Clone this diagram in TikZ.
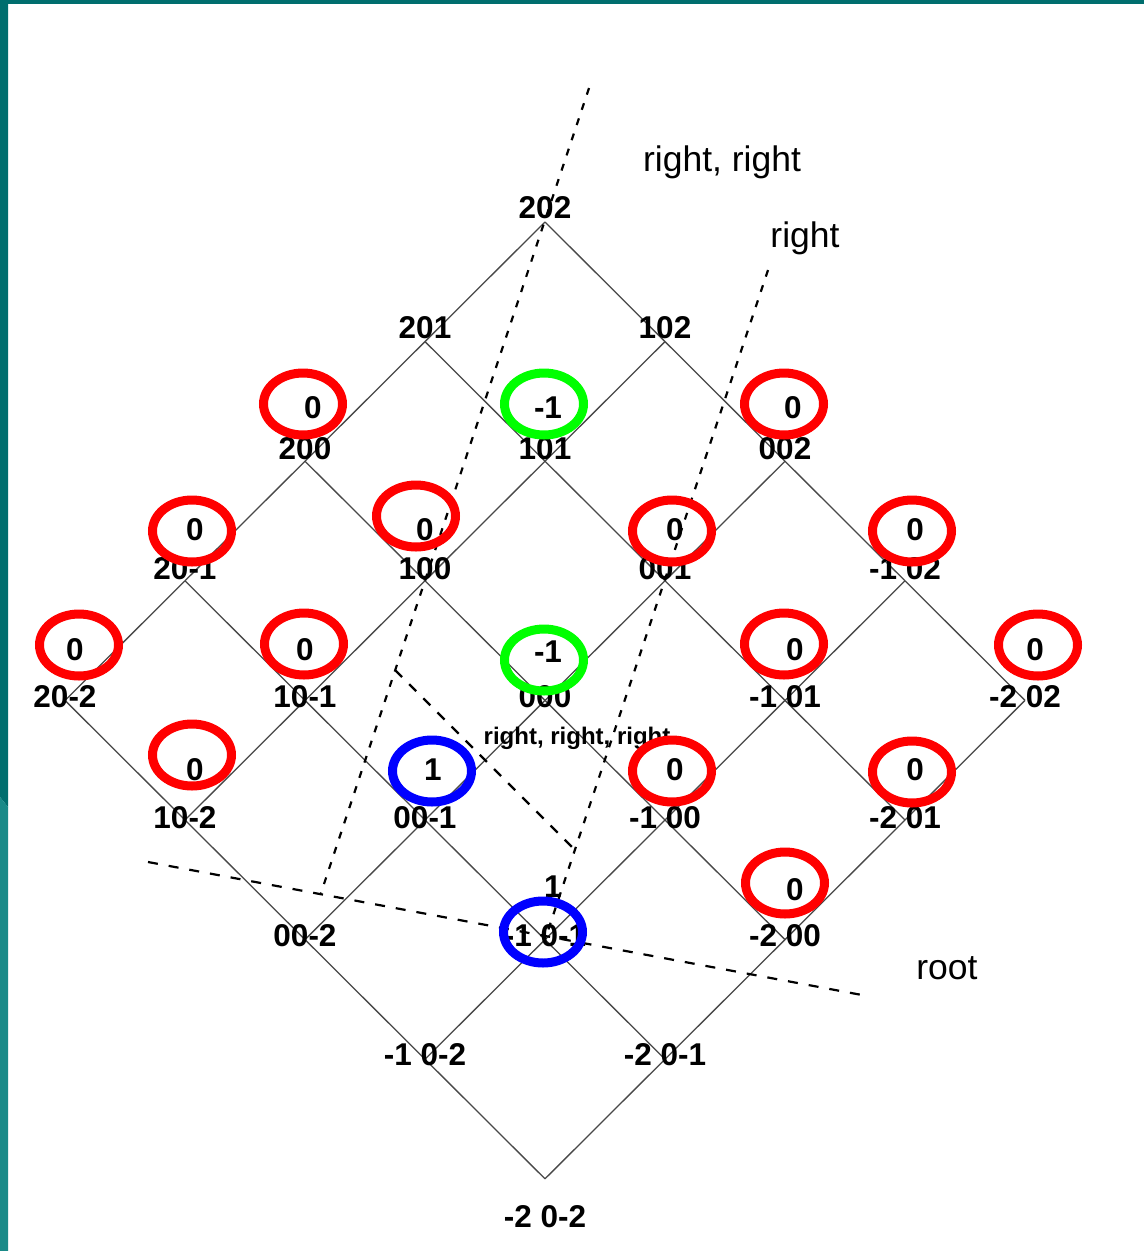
\documentclass[tikz,border=0pt]{standalone}
\usepackage{fontspec}
\setmainfont{Liberation Sans}
\usetikzlibrary{shapes.geometric}
\definecolor{tealdark}{RGB}{0,110,110}
\definecolor{teallight}{RGB}{26,138,136}
\definecolor{gridgray}{RGB}{72,72,72}
\definecolor{ringred}{RGB}{255,0,0}
\definecolor{ringgreen}{RGB}{0,255,0}
\definecolor{ringblue}{RGB}{0,0,255}
\begin{document}
\begin{tikzpicture}[x=1pt,y=-1pt,
  lattice/.style={draw=gridgray, line width=1.3pt},
  guide/.style={draw=black, line width=2.2pt, dash pattern=on 7pt off 9pt},
  guidediag/.style={draw=black, line width=2.2pt, dash pattern=on 10pt off 10pt},
  rootline/.style={draw=black, line width=2.2pt, dash pattern=on 10pt off 11pt},
  vlabel/.style={font=\fontsize{31.5}{37}\selectfont\bfseries, inner sep=0pt},
  vvalue/.style={font=\fontsize{31.5}{37}\selectfont\bfseries, inner sep=0pt},
  note/.style={font=\fontsize{35.5}{42}\selectfont, inner sep=0pt},
  smallnote/.style={font=\fontsize{24}{28}\selectfont\bfseries, inner sep=0pt},
  ring/.style={ellipse, draw=#1, line width=9pt, minimum width=79pt,
    minimum height=62pt, inner sep=0pt}
]
\useasboundingbox (0,0) rectangle (1144,1251);
\fill[white] (0,0) rectangle (1144,1251);
% slide frame
\fill[tealdark] (0,0) rectangle (1144,4);
\fill[tealdark] (0,0) -- (8,0) -- (8,807) -- (0,797) -- cycle;
\fill[teallight] (0,797) -- (8,807) -- (8,1251) -- (0,1251) -- cycle;

% lattice points (i = first index, k = last index)
\foreach \i in {-2,...,2} {
  \foreach \k in {-2,...,2} {
    \pgfmathsetmacro\vx{545+120*(\k-\i)}
    \pgfmathsetmacro\vy{222+119.6*(4-\i-\k)}
    \coordinate (v\i\k) at (\vx,\vy);
  }
}
% lattice edges
\foreach \i in {-2,...,2} {
  \foreach \k in {-1,...,2} {
    \pgfmathtruncatemacro\km{\k-1}
    \draw[lattice] (v\i\k) -- (v\i\km);
  }
}
\foreach \i in {-1,...,2} {
  \foreach \k in {-2,...,2} {
    \pgfmathtruncatemacro\im{\i-1}
    \draw[lattice] (v\i\k) -- (v\im\k);
  }
}

% dashed guides
\coordinate (g1a) at (589,88);
\coordinate (g1b) at (321,893);
\coordinate (g1j) at (395,670);
\coordinate (g2a) at (768,270);
\coordinate (g2j) at (575,850);
\coordinate (rootL) at (148,862);
\coordinate (rootR) at (862,995);
\draw[guide] (g1a) -- (g1b);
\draw[guide] (g2a) -- (v-1-1);
\draw[guidediag] (g1j) -- (g2j);
\draw[rootline] (rootL) -- (rootR);

% lattice labels
\foreach \i in {-2,...,2} {
  \foreach \k in {-2,...,2} {
    \pgfmathtruncatemacro\r{4-\i-\k}
    \pgfmathsetmacro\lx{545+120*(\k-\i)}
    \pgfmathsetmacro\ly{{208,328,449,569,697,818,936,1055,1217}[\r]}
    \node[vlabel] (l\i\k) at (\lx,\ly) {\ifnum\i<0 \i\ 0\k\else\i0\k\fi};
  }
}

% values
\node[vvalue] (n20)   at (313,408) {0};
\node[vvalue] (n11)   at (548,408) {-1};
\node[vvalue] (n02)   at (793,408) {0};
\node[vvalue] (n2m1)  at (195,530) {0};
\node[vvalue] (n10)   at (425,530) {0};
\node[vvalue] (n01)   at (675,530) {0};
\node[vvalue] (nm12)  at (915,530) {0};
\node[vvalue] (n2m2)  at (75,650)  {0};
\node[vvalue] (n1m1)  at (305,650) {0};
\node[vvalue] (n00)   at (548,652) {-1};
\node[vvalue] (nm11)  at (795,650) {0};
\node[vvalue] (nm22)  at (1035,650) {0};
\node[vvalue] (n1m2)  at (195,770) {0};
\node[vvalue] (n0m1)  at (433,770) {1};
\node[vvalue] (nm10)  at (675,770) {0};
\node[vvalue] (nm21)  at (915,770) {0};
\node[vvalue] (nm20)  at (795,890) {0};
\node[vvalue] (nm1m1) at (553,887) {1};

% annotations
\node[note] (tRR)  at (722,162) {right, right};
\node[note] (tR)   at (805,238) {right};
\node[note] (tRoot) at (947,968) {root};
\node[smallnote] (tRRR) at (577,738) {right, right, right};

% rings
\node[ring=ringred]   (c20)   at (303,404) {};
\node[ring=ringgreen] (c11)   at (544,404) {};
\node[ring=ringred]   (c02)   at (784,404) {};
\node[ring=ringred]   (c2m1)  at (192,531) {};
\node[ring=ringred]   (c10)   at (416,516) {};
\node[ring=ringred]   (c01)   at (672,531) {};
\node[ring=ringred]   (cm12)  at (912,531) {};
\node[ring=ringred]   (c2m2)  at (79,645)  {};
\node[ring=ringred]   (c1m1)  at (304,644) {};
\node[ring=ringgreen] (c00)   at (544,660) {};
\node[ring=ringred]   (cm11)  at (784,644) {};
\node[ring=ringred]   (cm22)  at (1038,645) {};
\node[ring=ringred]   (c1m2)  at (192,755) {};
\node[ring=ringblue]  (c0m1)  at (432,771) {};
\node[ring=ringred]   (cm10)  at (672,771) {};
\node[ring=ringred]   (cm21)  at (912,772) {};
\node[ring=ringred]   (cm20)  at (785,883) {};
\node[ring=ringblue]  (cm1m1) at (543,932) {};
\end{tikzpicture}
\end{document}
